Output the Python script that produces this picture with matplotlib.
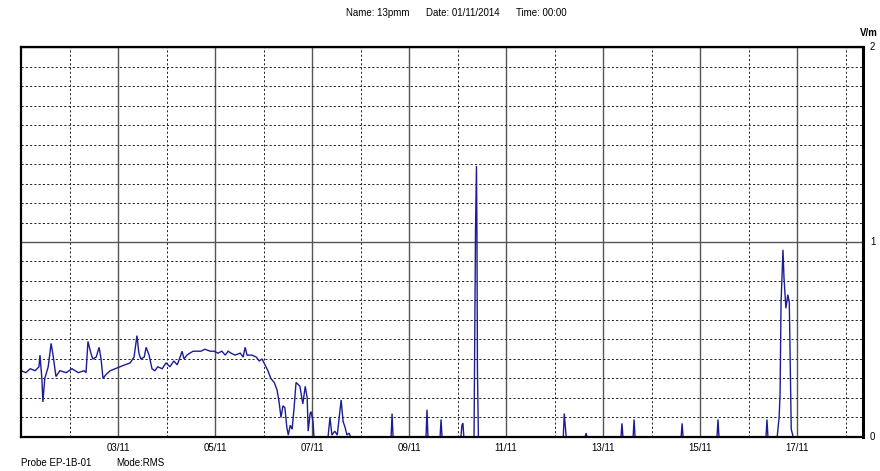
import matplotlib
matplotlib.use("Agg")
import matplotlib.pyplot as plt
import numpy as np

plt.rcParams['font.family'] = ['Liberation Sans', 'DejaVu Sans']

# time in days since 01/11/2014 00:00, field strength in V/m
days = [0.00, 0.10, 0.19, 0.29, 0.37, 0.39, 0.43, 0.45, 0.49, 0.56, 0.62, 0.66, 0.72, 0.80,
        0.93, 1.05, 1.18, 1.30, 1.34, 1.38, 1.44, 1.48, 1.55, 1.61, 1.65, 1.69, 1.75, 1.84,
        1.94, 2.04, 2.14, 2.25, 2.33, 2.39, 2.43, 2.47, 2.54, 2.58, 2.64, 2.70, 2.76, 2.82,
        2.91, 2.99, 3.07, 3.15, 3.22, 3.28, 3.32, 3.36, 3.42, 3.48, 3.55, 3.63, 3.71, 3.79,
        3.90, 3.98, 4.06, 4.14, 4.21, 4.27, 4.33, 4.41, 4.52, 4.58, 4.62, 4.66, 4.76, 4.85,
        4.91, 4.97, 5.03, 5.09, 5.15, 5.22, 5.28, 5.32, 5.36, 5.40, 5.44, 5.48, 5.51, 5.55,
        5.59, 5.63, 5.67, 5.71, 5.75, 5.79, 5.81, 5.86, 5.90, 5.92, 5.96, 5.98, 6.02, 6.04,
        6.33, 6.37, 6.41, 6.47, 6.52, 6.56, 6.60, 6.64, 6.68, 6.72, 6.76, 6.80,
        7.63, 7.65, 7.67, 8.35, 8.37, 8.39, 8.64, 8.66, 8.68, 9.07, 9.09, 9.11, 9.13,
        9.34, 9.35, 9.37, 9.39, 9.40, 9.41, 9.43,
        11.18, 11.20, 11.22, 11.24, 11.63, 11.65, 11.67, 12.37, 12.39, 12.41, 12.62, 12.64, 12.66,
        13.61, 13.63, 13.65, 14.35, 14.37, 14.39, 15.36, 15.38, 15.40,
        15.59, 15.63, 15.65, 15.67, 15.71, 15.73, 15.77, 15.81, 15.84, 15.88, 15.92, 17.36]
vm = [0.34, 0.33, 0.35, 0.34, 0.36, 0.42, 0.30, 0.18, 0.30, 0.36, 0.48, 0.42, 0.31, 0.34,
      0.33, 0.35, 0.33, 0.34, 0.33, 0.49, 0.43, 0.40, 0.41, 0.46, 0.40, 0.30, 0.32, 0.34,
      0.35, 0.36, 0.37, 0.38, 0.41, 0.52, 0.43, 0.40, 0.41, 0.46, 0.42, 0.35, 0.34, 0.36,
      0.35, 0.38, 0.36, 0.39, 0.37, 0.41, 0.44, 0.40, 0.42, 0.43, 0.44, 0.44, 0.44, 0.45,
      0.44, 0.44, 0.43, 0.44, 0.42, 0.44, 0.43, 0.42, 0.43, 0.41, 0.46, 0.42, 0.42, 0.41,
      0.39, 0.40, 0.37, 0.34, 0.30, 0.28, 0.24, 0.18, 0.10, 0.16, 0.15, 0.05, 0.01, 0.06,
      0.04, 0.15, 0.28, 0.27, 0.26, 0.20, 0.17, 0.26, 0.20, 0.03, 0.12, 0.13, 0.08, 0.00,
      0.00, 0.10, 0.01, 0.03, 0.01, 0.10, 0.19, 0.08, 0.05, 0.01, 0.02, 0.00,
      0.00, 0.12, 0.00, 0.00, 0.14, 0.00, 0.00, 0.09, 0.00, 0.00, 0.06, 0.07, 0.00,
      0.00, 0.35, 1.05, 1.39, 1.05, 0.35, 0.00,
      0.00, 0.12, 0.06, 0.00, 0.00, 0.02, 0.00, 0.00, 0.07, 0.00, 0.00, 0.09, 0.00,
      0.00, 0.07, 0.00, 0.00, 0.09, 0.00, 0.00, 0.09, 0.00,
      0.00, 0.10, 0.22, 0.69, 0.96, 0.82, 0.66, 0.73, 0.69, 0.04, 0.00, 0.00]

date_ticks = [2, 4, 6, 8, 10, 12, 14, 16]
date_labels = ['03/11', '05/11', '07/11', '09/11', '11/11', '13/11', '15/11', '17/11']
x_end = 17.36

fig = plt.figure(figsize=(8.8, 4.71), dpi=100)
ax = fig.add_axes([0.0239, 0.0722, 0.9568, 0.828])

ax.plot(days, vm, color='#1c1c96', lw=1.0, solid_joinstyle='miter')

ax.set_xlim(0, x_end)
ax.set_ylim(0, 2)

ax.set_xticks(date_ticks)
ax.set_xticklabels(date_labels)
ax.set_xticks(np.arange(1, 18, 2), minor=True)
ax.set_yticks([0, 1, 2])
ax.set_yticks(np.round(np.arange(0.1, 2.0, 0.1), 1), minor=True)

ax.yaxis.tick_right()
ax.tick_params(which='both', length=0, labelsize=7)
ax.tick_params(axis='x', pad=4)
ax.tick_params(axis='y', pad=5)
for lbl in ax.get_yticklabels():
    lbl.set_verticalalignment('center')

ax.grid(which='major', color='#555555', lw=1.0, ls='-')
ax.grid(which='minor', color='#222222', lw=0.7, ls=(0, (2.2, 2.2)))
ax.set_axisbelow(True)

for s in ax.spines.values():
    s.set_linewidth(1.6)
    s.set_color('black')
ax.spines['right'].set_linewidth(2.2)

fig.text(0.997, 0.93, 'V/m', fontsize=7, fontweight='bold', ha='right', va='center')
fig.text(0.519, 0.972, 'Name: 13pmm      Date: 01/11/2014      Time: 00:00',
         fontsize=7, ha='center', va='center')
fig.text(0.0239, 0.017, 'Probe EP-1B-01', fontsize=7, ha='left', va='center')
fig.text(0.132, 0.017, 'Mode:RMS', fontsize=7, ha='left', va='center')

fig.savefig('out.png', dpi=100)
